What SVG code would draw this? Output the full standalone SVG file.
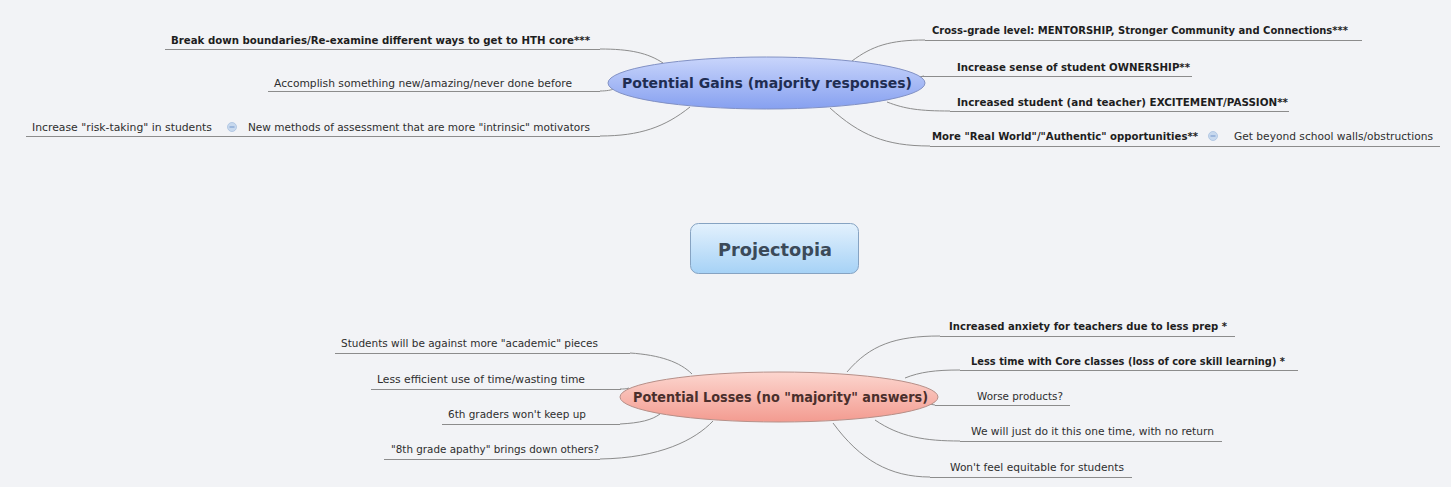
<svg xmlns="http://www.w3.org/2000/svg" width="1451" height="487" viewBox="0 0 1451 487">
<defs>
<linearGradient id="gBlue" x1="0" y1="0" x2="0" y2="1"><stop offset="0" stop-color="#c9d5fb"/><stop offset="1" stop-color="#86a0f0"/></linearGradient>
<linearGradient id="gRed" x1="0" y1="0" x2="0" y2="1"><stop offset="0" stop-color="#fcd6cf"/><stop offset="1" stop-color="#f39b90"/></linearGradient>
<linearGradient id="gBox" x1="0" y1="0" x2="0" y2="1"><stop offset="0" stop-color="#e3f1fd"/><stop offset="1" stop-color="#a6d2f6"/></linearGradient>
<style>
.t{font-family:"DejaVu Sans","Liberation Sans",sans-serif;font-size:11px;fill:#2e2e2e}
.b{font-weight:bold;fill:#1e1e1e}
.ul{stroke:#8c8c8c;stroke-width:1;fill:none}
.cn path{stroke:#8c8c8c;stroke-width:1;fill:none}
.ic{fill:#c8d9ee;stroke:#a9c1df;stroke-width:0.8}
.icd{stroke:#7f9fd0;stroke-width:1.2}
</style>
</defs>
<rect width="1451" height="487" fill="#f2f3f6"/>

<g class="cn" id="connectors">
<path d="M663,63 C648,53 630,49 600,49"/>
<path d="M600,91 C607,91 611,90 614,89"/>
<path d="M690,107 C665,127 640,136 600,136"/>
<path d="M852,61 C872,46 890,40 925,40"/>
<path d="M919,77 L924,76"/>
<path d="M887,102 C905,109 920,111 950,111"/>
<path d="M830,108 C860,135 885,146 930,146"/>
<path d="M630,353 C660,355 680,362 692,374"/>
<path d="M620,389 C624,389 626,389 629,388"/>
<path d="M620,424 C640,423 652,420 660,414"/>
<path d="M600,459 C660,458 695,440 713,421"/>
<path d="M847,372 C870,345 895,336 940,336"/>
<path d="M905,378 C920,372 935,370 960,370"/>
<path d="M929,404 L935,405"/>
<path d="M875,420 C900,437 925,441 960,441"/>
<path d="M833,423 C860,460 890,477 930,477"/>
</g>

<g id="central">
<rect x="690.5" y="223.5" width="168" height="50" rx="8" fill="url(#gBox)" stroke="#86a3c2"/>
<text x="775" y="256" text-anchor="middle" font-family="DejaVu Sans, sans-serif" font-weight="bold" font-size="18" fill="#3b4a59" textLength="114" lengthAdjust="spacingAndGlyphs">Projectopia</text>
</g>

<g id="gains">
<ellipse cx="766.5" cy="83" rx="158.5" ry="26" fill="url(#gBlue)" stroke="#8291c4"/>
<text x="622" y="88" font-family="DejaVu Sans, sans-serif" font-weight="bold" font-size="14" fill="#1f2d52" textLength="290" lengthAdjust="spacingAndGlyphs">Potential Gains (majority responses)</text>
</g>

<g id="losses">
<ellipse cx="779" cy="397" rx="159" ry="25" fill="url(#gRed)" stroke="#b69089"/>
<text x="633" y="402" font-family="DejaVu Sans, sans-serif" font-weight="bold" font-size="14" fill="#4a2f2c" textLength="295" lengthAdjust="spacingAndGlyphs">Potential Losses (no "majority" answers)</text>
</g>

<g id="gain1">
<line class="ul" x1="165" y1="49.5" x2="600" y2="49.5"/>
<text class="t b" x="171" y="44" textLength="419" lengthAdjust="spacingAndGlyphs">Break down boundaries/Re-examine different ways to get to HTH core***</text>
</g>
<g id="gain2">
<line class="ul" x1="268" y1="91.5" x2="600" y2="91.5"/>
<text class="t" x="274" y="87" textLength="298" lengthAdjust="spacingAndGlyphs">Accomplish something new/amazing/never done before</text>
</g>
<g id="gain3">
<line class="ul" x1="26" y1="136.5" x2="600" y2="136.5"/>
<text class="t" x="248" y="131" textLength="342" lengthAdjust="spacingAndGlyphs">New methods of assessment that are more "intrinsic" motivators</text>
<circle class="ic" cx="232" cy="127" r="4.5"/>
<line class="icd" x1="229.5" y1="127" x2="234.5" y2="127"/>
</g>
<g id="gain3a">
<text class="t" x="32" y="131" textLength="180" lengthAdjust="spacingAndGlyphs">Increase "risk-taking" in students</text>
</g>
<g id="gain4">
<line class="ul" x1="925" y1="40.5" x2="1362" y2="40.5"/>
<text class="t b" x="932" y="34" textLength="416" lengthAdjust="spacingAndGlyphs">Cross-grade level: MENTORSHIP, Stronger Community and Connections***</text>
</g>
<g id="gain5">
<line class="ul" x1="921" y1="76.5" x2="1192" y2="76.5"/>
<text class="t b" x="957" y="71" textLength="233" lengthAdjust="spacingAndGlyphs">Increase sense of student OWNERSHIP**</text>
</g>
<g id="gain6">
<line class="ul" x1="950" y1="111.5" x2="1289" y2="111.5"/>
<text class="t b" x="957" y="106" textLength="331" lengthAdjust="spacingAndGlyphs">Increased student (and teacher) EXCITEMENT/PASSION**</text>
</g>
<g id="gain7">
<line class="ul" x1="930" y1="146.5" x2="1440" y2="146.5"/>
<text class="t b" x="932" y="140" textLength="266" lengthAdjust="spacingAndGlyphs">More "Real World"/"Authentic" opportunities**</text>
<circle class="ic" cx="1213" cy="136" r="4.5"/>
<line class="icd" x1="1210.5" y1="136" x2="1215.5" y2="136"/>
</g>
<g id="gain7a">
<text class="t" x="1234" y="140" textLength="199" lengthAdjust="spacingAndGlyphs">Get beyond school walls/obstructions</text>
</g>

<g id="loss1">
<line class="ul" x1="335" y1="353.5" x2="630" y2="353.5"/>
<text class="t" x="341" y="347" textLength="257" lengthAdjust="spacingAndGlyphs">Students will be against more "academic" pieces</text>
</g>
<g id="loss2">
<line class="ul" x1="371" y1="389.5" x2="621" y2="389.5"/>
<text class="t" x="377" y="383" textLength="208" lengthAdjust="spacingAndGlyphs">Less efficient use of time/wasting time</text>
</g>
<g id="loss3">
<line class="ul" x1="442" y1="424.5" x2="620" y2="424.5"/>
<text class="t" x="448" y="418" textLength="138" lengthAdjust="spacingAndGlyphs">6th graders won't keep up</text>
</g>
<g id="loss4">
<line class="ul" x1="384" y1="459.5" x2="600" y2="459.5"/>
<text class="t" x="391" y="453" textLength="208" lengthAdjust="spacingAndGlyphs">"8th grade apathy" brings down others?</text>
</g>
<g id="loss5">
<line class="ul" x1="940" y1="336.5" x2="1235" y2="336.5"/>
<text class="t b" x="949" y="330" textLength="278" lengthAdjust="spacingAndGlyphs">Increased anxiety for teachers due to less prep *</text>
</g>
<g id="loss6">
<line class="ul" x1="960" y1="370.5" x2="1298" y2="370.5"/>
<text class="t b" x="971" y="365" textLength="314" lengthAdjust="spacingAndGlyphs">Less time with Core classes (loss of core skill learning) *</text>
</g>
<g id="loss7">
<line class="ul" x1="935" y1="405.5" x2="1070" y2="405.5"/>
<text class="t" x="977" y="400" textLength="86" lengthAdjust="spacingAndGlyphs">Worse products?</text>
</g>
<g id="loss8">
<line class="ul" x1="960" y1="441.5" x2="1222" y2="441.5"/>
<text class="t" x="971" y="435" textLength="243" lengthAdjust="spacingAndGlyphs">We will just do it this one time, with no return</text>
</g>
<g id="loss9">
<line class="ul" x1="930" y1="477.5" x2="1132" y2="477.5"/>
<text class="t" x="950" y="471" textLength="174" lengthAdjust="spacingAndGlyphs">Won't feel equitable for students</text>
</g>
</svg>
